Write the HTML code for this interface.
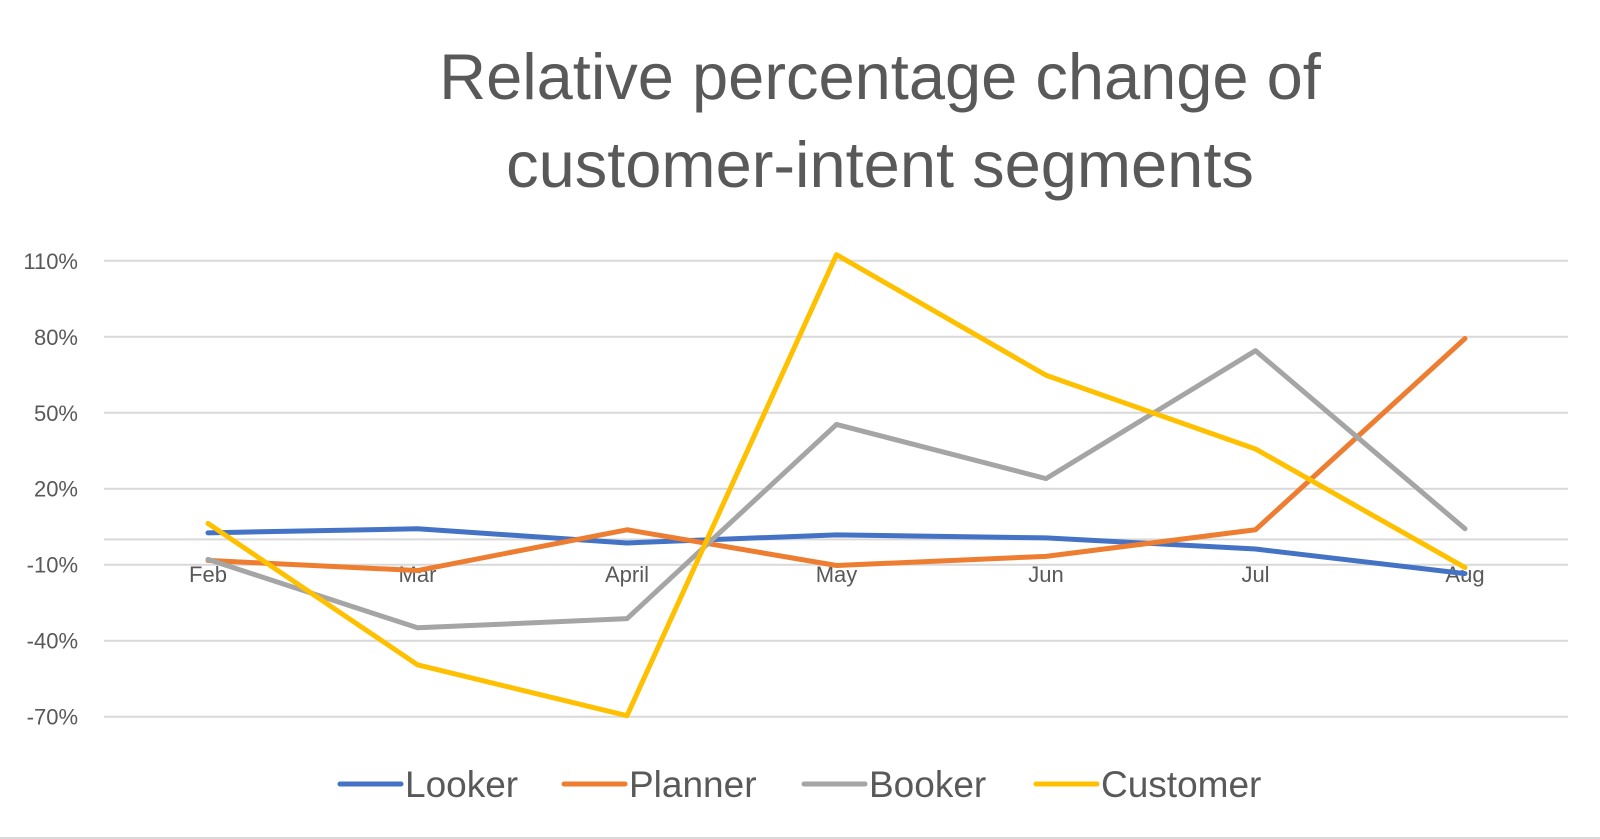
<!DOCTYPE html>
<html><head><meta charset="utf-8"><style>
body{margin:0;background:#fff;}
svg{display:block;font-family:"Liberation Sans",sans-serif;}
</style></head><body>
<svg id="chart" width="1600" height="839">
<text x="880" y="99" text-anchor="middle" font-size="65" fill="#595959">Relative percentage change of</text>
<text x="880" y="187" text-anchor="middle" font-size="65" fill="#595959">customer-intent segments</text>
<g id="grid"></g><g id="series"></g><g id="legend"></g>
<line x1="0" y1="838" x2="1600" y2="838" stroke="#d9d9d9" stroke-width="2"/>
</svg>
<script>
const categories=["Feb","Mar","April","May","Jun","Jul","Aug"];
const ticks=[110,80,50,20,-10,-40,-70];
const seriesNames=["Looker","Planner","Booker","Customer"];
const colors=["#4472C4","#ED7D31","#A5A5A5","#FFC000"];
const looker=[2.6,4.2,-1.4,1.8,0.6,-3.8,-13.5];
const planner=[-8.3,-12.3,3.8,-10.3,-6.7,3.8,79.3];
const booker=[-7.9,-34.9,-31.3,45.4,24,74.5,4.2];
const customer=[6.3,-49.5,-69.6,112.4,64.8,35.7,-11.1];
const data=[looker,planner,booker,customer];
const NS="http://www.w3.org/2000/svg";
function y(v){return 539.4-v*2.533;}
function x(i){return 208+i*209.5;}
function mk(t,a,p){const e=document.createElementNS(NS,t);for(const k in a)e.setAttribute(k,a[k]);p.appendChild(e);return e;}
const grid=document.getElementById('grid');
ticks.forEach(t=>{
 const l=mk('line',{x1:104,x2:1568,y1:y(t),y2:y(t),stroke:'#d9d9d9','stroke-width':2},grid);
 
 
 const tx=mk('text',{x:78,y:y(t)+8,'text-anchor':'end','font-size':22,fill:'#595959'},grid);
 tx.textContent=t+'%';
 
 
});
const ax=mk('line',{x1:104,x2:1568,y1:y(0),y2:y(0),stroke:'#d9d9d9','stroke-width':2},grid);


categories.forEach((c,i)=>{
 const tx=mk('text',{x:x(i),y:582,'text-anchor':'middle','font-size':22,fill:'#595959'},grid);
 tx.textContent=c;
 
 
});
const sg=document.getElementById('series');
data.forEach((d,s)=>{
 const p=mk('polyline',{points:d.map((v,i)=>x(i)+','+y(v)).join(' '),fill:'none',stroke:colors[s],'stroke-width':5,'stroke-linejoin':'round','stroke-linecap':'round'},sg);
 
 
});
const lg=document.getElementById('legend');
const lx=[340,564,804,1036];
seriesNames.forEach((n,s)=>{
 const g=mk('g',{},lg);
 
 
 mk('line',{x1:lx[s],x2:lx[s]+61,y1:784,y2:784,stroke:colors[s],'stroke-width':5,'stroke-linecap':'round'},g);
 const t=mk('text',{x:lx[s]+65,y:797,'font-size':37,fill:'#595959'},g);
 t.textContent=n;
});
</script>
</body></html>
